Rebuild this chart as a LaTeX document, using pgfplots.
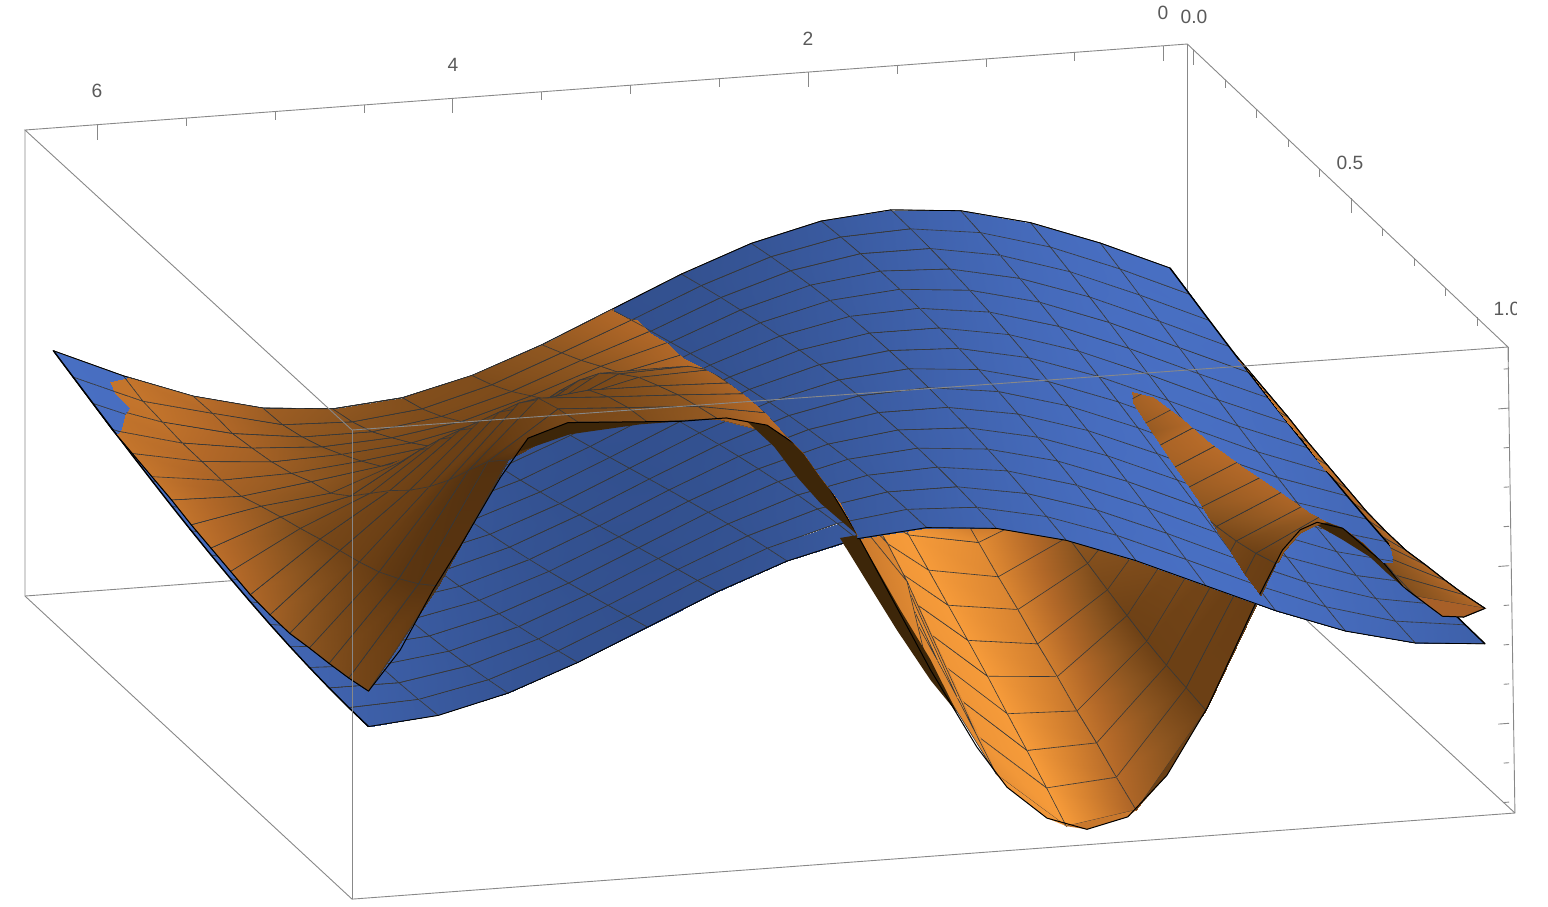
\documentclass[border=0pt]{standalone}
\usepackage{fontspec}
\setmainfont{Liberation Sans}
\usepackage{pgfplots}
\usepackage{pgfplotstable}
\pgfplotsset{compat=1.18}
\definecolor{tickgray}{HTML}{888888}
\definecolor{labgray}{HTML}{5A5A5A}
\definecolor{under}{HTML}{3D2609}
\definecolor{fa}{RGB}{168,96,40}
\definecolor{fb}{RGB}{140,85,32}
\definecolor{fc}{RGB}{107,64,21}
\definecolor{fd}{RGB}{200,120,45}
\definecolor{fe}{RGB}{240,150,56}
\definecolor{ff}{RGB}{176,101,40}
\definecolor{fg}{RGB}{165,98,38}
\definecolor{fh}{RGB}{90,52,16}
\pgfplotsset{
  colormap={blu}{rgb255=(46,74,132) rgb255=(74,113,198)},
  colormap={org}{rgb255=(52,30,8) rgb255=(105,62,20) rgb255=(140,85,32) rgb255=(178,104,40) rgb255=(214,130,48) rgb255=(246,155,58)},
  base/.style={
    anchor=origin, at={(585pt,-134pt)},
    x={(-88.85pt,-6.585pt)}, y={(157.5pt,-148.5pt)}, z={(0pt,39.4pt)},
    xmin=-0.135, xmax=6.41, ymin=-0.02, ymax=1.02, zmin=-3.17, zmax=2.86,
    hide axis, clip=false, point meta min=0, point meta max=1,
  },
  srf/.style={surf, shader=faceted interp, faceted color=black!78, line width=0.3pt, z buffer=sort, mesh/rows=17, mesh/cols=17, point meta=explicit},
  table/tbl/.style={x expr=\thisrow{i}*0.392699, y expr=\thisrow{j}/16, z=z, meta=m},
  box/.style={tickgray, line width=0.45pt, no marks},
  flap/.style={fill=#1, draw=none, no marks},
}
\pgfplotstableread{
i j z m
0 0 0 .95
1 0 .383 .92
2 0 .707 .83
3 0 .924 .70
4 0 1 .55
5 0 .924 .40
6 0 .707 .27
7 0 .383 .18
8 0 0 .15
9 0 -.383 .18
10 0 -.707 .27
11 0 -.924 .40
12 0 -1 .55
13 0 -.924 .70
14 0 -.707 .83
15 0 -.383 .92
16 0 0 .95
0 1 -.098 .95
1 1 .29 .93
2 1 .634 .86
3 1 .882 .74
4 1 .995 .59
5 1 .957 .43
6 1 .773 .30
7 1 .471 .20
8 1 .098 .15
9 1 -.29 .17
10 1 -.634 .24
11 1 -.882 .36
12 1 -.995 .51
13 1 -.957 .67
14 1 -.773 .80
15 1 -.471 .90
16 1 -.098 .95
0 2 -.195 .94
1 2 .195 .94
2 2 .556 .88
3 2 .831 .77
4 2 .981 .63
5 2 .981 .47
6 2 .831 .33
7 2 .556 .22
8 2 .195 .16
9 2 -.195 .16
10 2 -.556 .22
11 2 -.831 .33
12 2 -.981 .47
13 2 -.981 .63
14 2 -.831 .77
15 2 -.556 .88
16 2 -.195 .94
0 3 -.29 .93
1 3 .098 .95
2 3 .471 .90
3 3 .773 .80
4 3 .957 .67
5 3 .995 .51
6 3 .882 .36
7 3 .634 .24
8 3 .29 .17
9 3 -.098 .15
10 3 -.471 .20
11 3 -.773 .30
12 3 -.957 .43
13 3 -.995 .59
14 3 -.882 .74
15 3 -.634 .86
16 3 -.29 .93
0 4 -.383 .92
1 4 0 .95
2 4 .383 .92
3 4 .707 .83
4 4 .924 .70
5 4 1 .55
6 4 .924 .40
7 4 .707 .27
8 4 .383 .18
9 4 0 .15
10 4 -.383 .18
11 4 -.707 .27
12 4 -.924 .40
13 4 -1 .55
14 4 -.924 .70
15 4 -.707 .83
16 4 -.383 .92
0 5 -.471 .90
1 5 -.098 .95
2 5 .29 .93
3 5 .634 .86
4 5 .882 .74
5 5 .995 .59
6 5 .957 .43
7 5 .773 .30
8 5 .471 .20
9 5 .098 .15
10 5 -.29 .17
11 5 -.634 .24
12 5 -.882 .36
13 5 -.995 .51
14 5 -.957 .67
15 5 -.773 .80
16 5 -.471 .90
0 6 -.556 .88
1 6 -.195 .94
2 6 .195 .94
3 6 .556 .88
4 6 .831 .77
5 6 .981 .63
6 6 .981 .47
7 6 .831 .33
8 6 .556 .22
9 6 .195 .16
10 6 -.195 .16
11 6 -.556 .22
12 6 -.831 .33
13 6 -.981 .47
14 6 -.981 .63
15 6 -.831 .77
16 6 -.556 .88
0 7 -.634 .86
1 7 -.29 .93
2 7 .098 .95
3 7 .471 .90
4 7 .773 .80
5 7 .957 .67
6 7 .995 .51
7 7 .882 .36
8 7 .634 .24
9 7 .29 .17
10 7 -.098 .15
11 7 -.471 .20
12 7 -.773 .30
13 7 -.957 .43
14 7 -.995 .59
15 7 -.882 .74
16 7 -.634 .86
0 8 -.707 .83
1 8 -.383 .92
2 8 0 .95
3 8 .383 .92
4 8 .707 .83
5 8 .924 .70
6 8 1 .55
7 8 .924 .40
8 8 .707 .27
9 8 .383 .18
10 8 0 .15
11 8 -.383 .18
12 8 -.707 .27
13 8 -.924 .40
14 8 -1 .55
15 8 -.924 .70
16 8 -.707 .83
0 9 -.773 .80
1 9 -.471 .90
2 9 -.098 .95
3 9 .29 .93
4 9 .634 .86
5 9 .882 .74
6 9 .995 .59
7 9 .957 .43
8 9 .773 .30
9 9 .471 .20
10 9 .098 .15
11 9 -.29 .17
12 9 -.634 .24
13 9 -.882 .36
14 9 -.995 .51
15 9 -.957 .67
16 9 -.773 .80
0 10 -.831 .77
1 10 -.556 .88
2 10 -.195 .94
3 10 .195 .94
4 10 .556 .88
5 10 .831 .77
6 10 .981 .63
7 10 .981 .47
8 10 .831 .33
9 10 .556 .22
10 10 .195 .16
11 10 -.195 .16
12 10 -.556 .22
13 10 -.831 .33
14 10 -.981 .47
15 10 -.981 .63
16 10 -.831 .77
0 11 -.882 .74
1 11 -.634 .86
2 11 -.29 .93
3 11 .098 .95
4 11 .471 .90
5 11 .773 .80
6 11 .957 .67
7 11 .995 .51
8 11 .882 .36
9 11 .634 .24
10 11 .29 .17
11 11 -.098 .15
12 11 -.471 .20
13 11 -.773 .30
14 11 -.957 .43
15 11 -.995 .59
16 11 -.882 .74
0 12 -.924 .70
1 12 -.707 .83
2 12 -.383 .92
3 12 0 .95
4 12 .383 .92
5 12 .707 .83
6 12 .924 .70
7 12 1 .55
8 12 .924 .40
9 12 .707 .27
10 12 .383 .18
11 12 0 .15
12 12 -.383 .18
13 12 -.707 .27
14 12 -.924 .40
15 12 -1 .55
16 12 -.924 .70
0 13 -.957 .67
1 13 -.773 .80
2 13 -.471 .90
3 13 -.098 .95
4 13 .29 .93
5 13 .634 .86
6 13 .882 .74
7 13 .995 .59
8 13 .957 .43
9 13 .773 .30
10 13 .471 .20
11 13 .098 .15
12 13 -.29 .17
13 13 -.634 .24
14 13 -.882 .36
15 13 -.995 .51
16 13 -.957 .67
0 14 -.981 .63
1 14 -.831 .77
2 14 -.556 .88
3 14 -.195 .94
4 14 .195 .94
5 14 .556 .88
6 14 .831 .77
7 14 .981 .63
8 14 .981 .47
9 14 .831 .33
10 14 .556 .22
11 14 .195 .16
12 14 -.195 .16
13 14 -.556 .22
14 14 -.831 .33
15 14 -.981 .47
16 14 -.981 .63
0 15 -.995 .59
1 15 -.882 .74
2 15 -.634 .86
3 15 -.29 .93
4 15 .098 .95
5 15 .471 .90
6 15 .773 .80
7 15 .957 .67
8 15 .995 .51
9 15 .882 .36
10 15 .634 .24
11 15 .29 .17
12 15 -.098 .15
13 15 -.471 .20
14 15 -.773 .30
15 15 -.957 .43
16 15 -.995 .59
0 16 -1 .55
1 16 -.924 .70
2 16 -.707 .83
3 16 -.383 .92
4 16 0 .95
5 16 .383 .92
6 16 .707 .83
7 16 .924 .70
8 16 1 .55
9 16 .924 .40
10 16 .707 .27
11 16 .383 .18
12 16 0 .15
13 16 -.383 .18
14 16 -.707 .27
15 16 -.924 .40
16 16 -1 .55
}\Btab
\pgfplotstableread{
i j z m
0 0 0 .7
1 0 .383 .5
2 0 .707 .6
3 0 .924 .4
4 0 1 .4
5 0 .924 .6
6 0 .707 .8
7 0 .383 .8
8 0 0 .6
9 0 -.383 .42
10 0 -.707 .33
11 0 -.924 .35
12 0 -1 .42
13 0 -.924 .5
14 0 -.707 .65
15 0 -.383 .7
16 0 0 .7
0 1 -.10 .7
1 1 .32 .5
2 1 .64 .6
3 1 .59 .4
4 1 .46 .4
5 1 .37 .6
6 1 .28 .8
7 1 .22 .8
8 1 .10 .6
9 1 -.25 .42
10 1 -.59 .32
11 1 -.83 .33
12 1 -.93 .38
13 1 -.90 .46
14 1 -.69 .6
15 1 -.47 .7
16 1 -.10 .7
0 2 -.20 .7
1 2 .26 .5
2 2 .58 .6
3 2 .40 .4
4 2 .16 .4
5 2 .05 .6
6 2 .04 .8
7 2 .14 .8
8 2 .20 .6
9 2 -.11 .42
10 2 -.44 .31
11 2 -.69 .31
12 2 -.82 .36
13 2 -.82 .42
14 2 -.71 .58
15 2 -.50 .68
16 2 -.20 .7
0 3 -.30 .7
1 3 .22 .5
2 3 .53 .6
3 3 .25 .4
4 3 -.09 .4
5 3 -.23 .6
6 3 -.17 .8
7 3 .04 .8
8 3 .30 .6
9 3 .05 .42
10 3 -.26 .3
11 3 -.52 .29
12 3 -.66 .33
13 3 -.71 .38
14 3 -.66 .54
15 3 -.53 .64
16 3 -.30 .7
0 4 -.36 .7
1 4 .18 .5
2 4 .48 .6
3 4 .16 .4
4 4 -.30 .4
5 4 -.45 .6
6 4 -.37 .8
7 4 -.05 .8
8 4 .40 .62
9 4 .20 .44
10 4 -.08 .29
11 4 -.30 .27
12 4 -.49 .31
13 4 -.57 .36
14 4 -.60 .5
15 4 -.53 .6
16 4 -.36 .7
0 5 -.42 .7
1 5 .13 .5
2 5 .43 .6
3 5 .07 .4
4 5 -.47 .4
5 5 -.68 .6
6 5 -.55 .8
7 5 -.16 .8
8 5 .45 .66
9 5 .35 .46
10 5 .12 .28
11 5 -.02 .25
12 5 -.30 .28
13 5 -.42 .33
14 5 -.51 .45
15 5 -.53 .55
16 5 -.42 .7
0 6 -.48 .7
1 6 .09 .5
2 6 .39 .66
3 6 .01 .4
4 6 -.63 .4
5 6 -.87 .6
6 6 -.74 .8
7 6 -.26 .8
8 6 .52 .7
9 6 .55 .5
10 6 .45 .3
11 6 .30 .23
12 6 -.05 .25
13 6 -.25 .3
14 6 -.38 .42
15 6 -.50 .5
16 6 -.48 .7
0 7 -.56 .7
1 7 .04 .5
2 7 .36 .66
3 7 -.04 .38
4 7 -.78 .4
5 7 -1.07 .6
6 7 -.93 .8
7 7 -.39 .8
8 7 .57 .72
9 7 .78 .55
10 7 .80 .35
11 7 .65 .22
12 7 .22 .23
13 7 .04 .27
14 7 -.29 .35
15 7 -.39 .45
16 7 -.56 .68
0 8 -.62 .7
1 8 0 .5
2 8 .33 .66
3 8 -.07 .34
4 8 -.90 .48
5 8 -1.27 .88
6 8 -1.11 1
7 8 -.53 .95
8 8 .63 .72
9 8 1.0 .6
10 8 1.15 .4
11 8 1.05 .24
12 8 .52 .22
13 8 .43 .25
14 8 -.09 .3
15 8 -.29 .4
16 8 -.62 .65
0 9 -.68 .6
1 9 -.04 .5
2 9 .32 .66
3 9 -.08 .5
4 9 -1.03 .42
5 9 -1.47 .84
6 9 -1.32 1
7 9 -.68 .95
8 9 .64 .75
9 9 1.2 .65
10 9 1.48 .45
11 9 1.42 .28
12 9 .88 .22
13 9 .8 .23
14 9 .18 .27
15 9 -.20 .33
16 9 -.68 .62
0 10 -.74 .6
1 10 -.09 .5
2 10 .31 .66
3 10 -.09 .48
4 10 -1.13 .34
5 10 -1.65 .81
6 10 -1.53 1
7 10 -.86 .95
8 10 .64 .76
9 10 1.33 .68
10 10 1.75 .5
11 10 1.74 .3
12 10 1.22 .22
13 10 1.15 .22
14 10 .45 .25
15 10 -.10 .28
16 10 -.74 .58
0 11 -.76 .6
1 11 -.13 .35
2 11 .32 .64
3 11 -.07 .44
4 11 -1.23 .28
5 11 -1.85 .78
6 11 -1.74 1
7 11 -1.05 .95
8 11 .63 .78
9 11 1.38 .7
10 11 2.0 .52
11 11 1.97 .32
12 11 1.57 .24
13 11 1.5 .22
14 11 .69 .22
15 11 -.01 .25
16 11 -.76 .52
0 12 -.76 .6
1 12 -.18 .35
2 12 .34 .62
3 12 -.04 .4
4 12 -1.32 .23
5 12 -2.03 .75
6 12 -1.96 1
7 12 -1.24 .95
8 12 .61 .78
9 12 1.45 .7
10 12 2.19 .55
11 12 2.16 .35
12 12 1.95 .26
13 12 1.85 .22
14 12 .97 .2
15 12 .08 .22
16 12 -.76 .44
0 13 -.71 .6
1 13 -.21 .35
2 13 .38 .6
3 13 -.02 .33
4 13 -1.41 .22
5 13 -2.23 .71
6 13 -2.20 1
7 13 -1.46 .95
8 13 .51 .8
9 13 1.47 .7
10 13 2.26 .56
11 13 2.29 .38
12 13 2.3 .28
13 13 2.2 .24
14 13 1.29 .16
15 13 .19 .18
16 13 -.71 .38
0 14 -.67 .6
1 14 -.25 .35
2 14 .43 .58
3 14 .03 .27
4 14 -1.48 .22
5 14 -2.40 .67
6 14 -2.43 1
7 14 -1.69 .95
8 14 .33 .8
9 14 1.35 .7
10 14 2.36 .58
11 14 2.41 .4
12 14 2.45 .3
13 14 2.5 .26
14 14 1.65 .13
15 14 .34 .15
16 14 -.67 .33
0 15 -.62 .6
1 15 -.30 .35
2 15 .55 .5
3 15 .11 .22
4 15 -1.53 .22
5 15 -2.60 .62
6 15 -2.67 1
7 15 -1.94 .95
8 15 .08 .85
9 15 1.24 .7
10 15 2.35 .6
11 15 2.5 .42
12 15 2.55 .32
13 15 2.6 .28
14 15 2.0 .12
15 15 .51 .14
16 15 -.62 .28
0 16 -.55 .6
1 16 -.33 .35
2 16 .66 .45
3 16 .22 .2
4 16 -1.58 .22
5 16 -2.78 .56
6 16 -2.92 1
7 16 -2.2 .9
8 16 -.72 .85
9 16 .97 .7
10 16 2.28 .6
11 16 2.58 .45
12 16 2.6 .34
13 16 2.67 .3
14 16 2.25 .12
15 16 .72 .14
16 16 -.55 .25
}\Otab
\newcommand\orangeplots{%
  \addplot3[srf, colormap name=org] table[tbl] {\Otab};
  % the front edge y=1 between the mesh columns
  \addplot3[flap=fa] coordinates {(0,1,-.55)(.12,1,-.64)(.24,1,-.61)(.393,1,-.33)} -- cycle;
  \addplot3[flap=fb] coordinates {(.785,1,.66)(.945,1,.7)(1.04,1,.62)(1.14,1,.38)(1.178,1,.22)} -- cycle;
  \addplot3[flap=fc] coordinates {(1.571,1,-1.58)(1.79,1,-2.37)(1.963,1,-2.78)} -- cycle;
  \addplot3[flap=fd] coordinates {(1.963,1,-2.78)(2.01,1,-2.86)(2.24,1,-2.98)(2.356,1,-2.92)} -- cycle;
  \addplot3[flap=fe] coordinates {(2.356,1,-2.92)(2.465,1,-2.8)(2.69,1,-2.37)(2.749,1,-2.2)} -- cycle;
  \addplot3[flap=ff] coordinates {(3.534,1,.97)(3.81,1,2.06)(3.927,1,2.28)} -- cycle;
  \addplot3[flap=fg] coordinates {(3.927,1,2.28)(4.04,1,2.45)(4.15,1,2.51)(4.32,1,2.58)} -- cycle;
  \addplot3[flap=fh] coordinates {(5.105,1,2.67)(5.16,1,2.67)(5.385,1,2.51)(5.498,1,2.25)} -- cycle;
  % underside seen below the front edge
  \addplot3[flap=under] coordinates {(5.385,1,2.51)(5.16,1,2.67)(4.53,1,2.58)(4.755,1,2.58)(5.15,1,2.52)(5.43,1,2.35)} -- cycle;
  \addplot3[flap=under] coordinates {(4.15,1,2.51)(4.04,1,2.45)(3.81,1,2.06)(3.53,1,.97)(3.74,1,1.41)(3.87,1,1.76)(4.0,1,2.17)} -- cycle;
  \addplot3[flap=under] coordinates {(3.63,1,.95)(3.46,1,.30)(3.31,1,-.27)(3.12,1,-.94)(2.97,1,-1.38)(3.12,1,-.68)(3.29,1,-.02)(3.53,1,.97)} -- cycle;
  \addplot3[flap=under] coordinates {(.889,1,.69)(.8,1,.60)(.687,1,.39)(.574,1,.12)(.461,1,-.2)(.338,1,-.43)(.253,1,-.59)(.422,1,-.28)(.551,1,-.01)(.647,1,.21)(.8,1,.45)(.945,1,.66)} -- cycle;
  \addplot3[black, line width=0.5pt, no marks] coordinates {(0,1,-.55)(.12,1,-.64)(.24,1,-.61)(.46,1,-.2)(.57,1,.12)(.8,1,.6)(.945,1,.7)(1.04,1,.62)(1.14,1,.38)(1.27,1,-.17)(1.56,1,-1.54)(1.79,1,-2.37)(2.01,1,-2.86)(2.24,1,-2.98)(2.465,1,-2.8)(2.69,1,-2.37)(2.86,1,-1.83)(3.12,1,-.81)(3.53,1,.97)(3.81,1,2.06)(4.04,1,2.45)(4.27,1,2.58)(4.53,1,2.58)(5.16,1,2.67)(5.385,1,2.51)(5.54,1,2.04)(5.77,1,1.19)(5.92,1,.67)(6.105,1,-.06)(6.283,1,-.55)};
  \addplot3[black, line width=0.5pt, no marks, restrict x to domain=6.27:6.29, unbounded coords=discard] table[tbl] {\Otab};
  \addplot3[black, line width=0.5pt, no marks, restrict x to domain=-0.01:0.01, unbounded coords=discard] table[tbl] {\Otab};
}
\begin{document}
\begin{tikzpicture}[x=0.5pt,y=-0.5pt]
\path[use as bounding box] (0,0) rectangle (1548,906);
% back layer
\begin{axis}[base]
  \addplot3[box] coordinates {(-0.133,-0.02,2.745)(-0.133,-0.02,-3.167)};
  \addplot3[box] coordinates {(6.408,-0.02,-3.167)(-0.133,-0.02,-3.167)(-0.133,1.02,-3.094)};
  \orangeplots
  \addplot3[srf, colormap name=blu] table[tbl] {\Btab};
  \addplot3[black, line width=0.4pt, no marks, restrict y to domain=0.99:1.01, unbounded coords=discard] table[tbl] {\Btab};
  \addplot3[black, line width=0.4pt, no marks, restrict y to domain=-0.01:0.01, unbounded coords=discard] table[tbl] {\Btab};
  \addplot3[black, line width=0.7pt, no marks, restrict x to domain=6.27:6.29, unbounded coords=discard] table[tbl] {\Btab};
  \addplot3[black, line width=0.7pt, no marks, restrict x to domain=-0.01:0.01, unbounded coords=discard] table[tbl] {\Btab};
\end{axis}
% orange above blue: left region
\begin{scope}
\clip (128,370) -- (128,378) -- (110,382) -- (115,393) -- (130,408) -- (125,415) -- (122,428) -- (119,433) -- (100,445) -- (100,800) -- (500,800) -- (857,540) -- (857,535) -- (840,503) -- (820,477) -- (803,453) -- (787,437) -- (767,415) -- (747,397) -- (720,377) -- (693,363) -- (683,358) -- (667,343) -- (650,333) -- (637,320) -- (627,318) -- (613,311) -- (613,290) -- cycle;
\begin{axis}[base]
  \orangeplots
\end{axis}
\end{scope}
% orange above blue: the ridge on the right
\begin{scope}
\clip (1132,392) -- (1153,397) -- (1180,417) -- (1210,443) -- (1243,467) -- (1277,490) -- (1310,513) -- (1327,522) -- (1343,528) -- (1363,543) -- (1383,563) -- (1393,563) -- (1392,553) -- (1387,537) -- (1380,530) -- (1363,510) -- (1347,490) -- (1323,468) -- (1305,443) -- (1283,417) -- (1268,397) -- (1250,373) -- (1238,360) -- (1262,340) -- (1540,640) -- (1540,620) -- (1443,620) -- (1440,615) -- (1410,593) -- (1387,573) -- (1370,557) -- (1343,540) -- (1317,525) -- (1300,533) -- (1283,553) -- (1262,598) -- (1260,595) -- (1243,572) -- (1228,548) -- (1213,525) -- (1198,500) -- (1182,477) -- (1165,452) -- (1147,425) -- (1133,403) -- cycle;
\begin{axis}[base]
  \orangeplots
\end{axis}
\end{scope}
% front layer: box and ticks
\begin{axis}[base]
  \addplot3[box] coordinates {(-0.133,-0.02,2.745)(6.408,-0.02,2.747)(6.411,1.02,2.86)(-0.094,1.02,2.826)(-0.133,-0.02,2.745)};
  \addplot3[box] coordinates {(6.408,-0.02,2.747)(6.408,-0.02,-3.167)(6.411,1.02,-3.093)(-0.133,1.02,-3.094)(-0.094,1.02,2.826)};
  \addplot3[box] coordinates {(6.411,1.02,2.86)(6.411,1.02,-3.093)};
  \pgfplotsinvokeforeach{0,2,4,6}{\addplot3[box] coordinates {(#1,-0.02,2.745)(#1,-0.02,2.555)};}
  \pgfplotsinvokeforeach{0.5,1,1.5,2.5,3,3.5,4.5,5,5.5}{\addplot3[box] coordinates {(#1,-0.02,2.745)(#1,-0.02,2.64)};}
  \pgfplotsinvokeforeach{0,0.5,1}{\addplot3[box] coordinates {(-0.134,#1,2.745)(-0.134,#1,2.555)};}
  \pgfplotsinvokeforeach{0.1,0.2,0.3,0.4,0.6,0.7,0.8,0.9}{\addplot3[box] coordinates {(-0.134,#1,2.745)(-0.134,#1,2.64)};}
  \pgfplotsinvokeforeach{2.05,0.05,-1.95}{\addplot3[box] coordinates {(-0.1,1.02,#1)(-0.04,1.02,#1)};}
  \pgfplotsinvokeforeach{2.55,1.55,1.05,0.55,-0.45,-0.95,-1.45,-2.45,-2.95}{\addplot3[box] coordinates {(-0.1,1.02,#1)(-0.07,1.02,#1)};}
\end{axis}
\begin{scope}
\clip (0,0) rectangle (1516,906);
\tikzset{lab/.style={text=labgray, font=\fontsize{9.6}{11}\selectfont, inner sep=0pt}}
\node[lab] at (97,91) {6};
\node[lab] at (453,65) {4};
\node[lab] at (808,39) {2};
\node[lab] at (1163,13) {0};
\node[lab] at (1194,17) {0.0};
\node[lab] at (1350,163) {0.5};
\node[lab] at (1507,309) {1.0};
\end{scope}
\end{tikzpicture}
\end{document}
